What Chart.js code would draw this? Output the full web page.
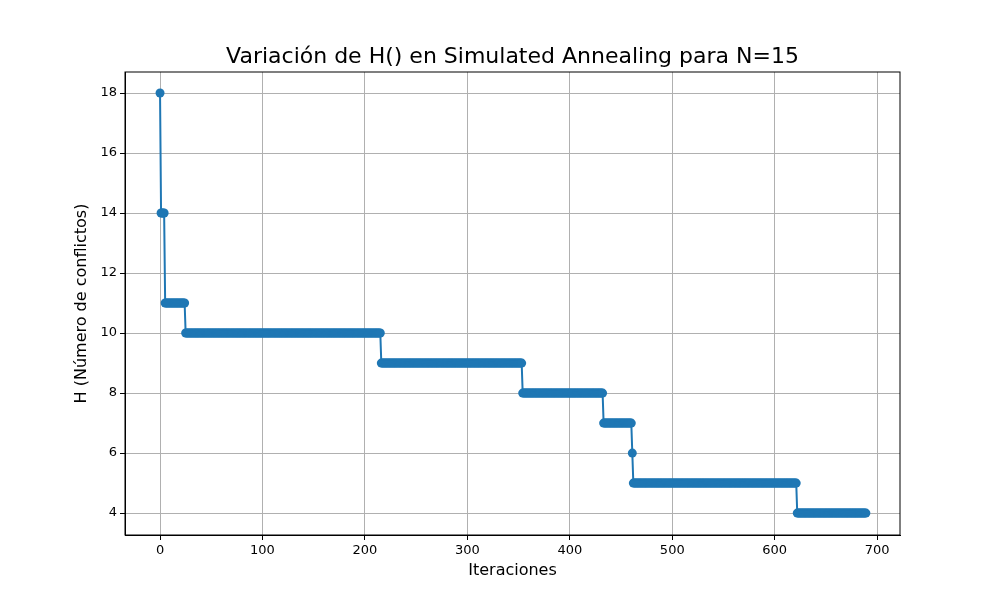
<!DOCTYPE html>
<html>
<head>
<meta charset="utf-8">
<script src="https://cdn.jsdelivr.net/npm/chart.js@4"></script>
<style>body{margin:0;background:#fff}</style>
</head>
<body>
<canvas id="myChart" width="1000" height="600" style="width:1000px;height:600px"></canvas>
<script>
// runs of H(): first iteration of each run and its value
const runStarts = [0, 1, 5, 25, 216, 354, 433, 461, 462, 622];
const runValues = [18, 14, 11, 10, 9, 8, 7, 6, 5, 4];
const lastIteration = 689;
const xTicks = [0, 100, 200, 300, 400, 500, 600, 700];
const yTicks = [4, 6, 8, 10, 12, 14, 16, 18];

const points = [];
for (let r = 0; r < runStarts.length; r++) {
    const end = r + 1 < runStarts.length ? runStarts[r + 1] - 1 : lastIteration;
    for (let i = runStarts[r]; i <= end; i++) points.push({x: i, y: runValues[r]});
}

const font = {family: 'DejaVu Sans', size: 13};
const grid = {color: '#b0b0b0', lineWidth: 1, drawTicks: true, tickLength: 5, tickColor: '#000'};

new Chart(document.getElementById('myChart').getContext('2d'), {
    type: 'line',
    data: {
        datasets: [{
            data: points,
            borderColor: '#1f77b4',
            backgroundColor: '#1f77b4',
            borderWidth: 2,
            pointRadius: 4.5,
            pointBorderWidth: 0
        }]
    },
    options: {
        responsive: false,
        animation: false,
        layout: {padding: {right: 100, left: 0, top: 72, bottom: 0}},
        plugins: {
            legend: {display: false},
            tooltip: {enabled: false}
        },
        scales: {
            x: {
                type: 'linear', min: -34.2, max: 722.3,
                afterBuildTicks: s => { s.ticks = xTicks.map(v => ({value: v})); },
                afterFit: s => { s.height = 65; },
                grid: grid,
                border: {color: '#000', width: 1},
                ticks: {color: '#000', font: font, padding: 3}
            },
            y: {
                type: 'linear', min: 3.27, max: 18.7,
                afterBuildTicks: s => { s.ticks = yTicks.map(v => ({value: v})); },
                afterFit: s => { s.width = 125; },
                grid: grid,
                border: {color: '#000', width: 1},
                ticks: {color: '#000', font: font, padding: 3}
            }
        }
    },
    plugins: [{
        id: 'frame',
        afterDraw(chart) {
            const {ctx, chartArea: a} = chart;
            const cx = (a.left + a.right) / 2, cy = (a.top + a.bottom) / 2;
            ctx.save();
            ctx.strokeStyle = '#000';
            ctx.lineWidth = 1;
            ctx.strokeRect(a.left, a.top, a.right - a.left, a.bottom - a.top);
            ctx.fillStyle = '#000';
            ctx.textAlign = 'center';
            ctx.textBaseline = 'middle';
            ctx.font = '22px "DejaVu Sans"';
            ctx.fillText('Variación de H() en Simulated Annealing para N=15', cx, 57);
            ctx.font = '16px "DejaVu Sans"';
            ctx.fillText('Iteraciones', cx, 571);
            ctx.translate(82, cy);
            ctx.rotate(-Math.PI / 2);
            ctx.fillText('H (Número de conflictos)', 0, 0);
            ctx.restore();
        }
    }]
});
</script>
</body>
</html>
